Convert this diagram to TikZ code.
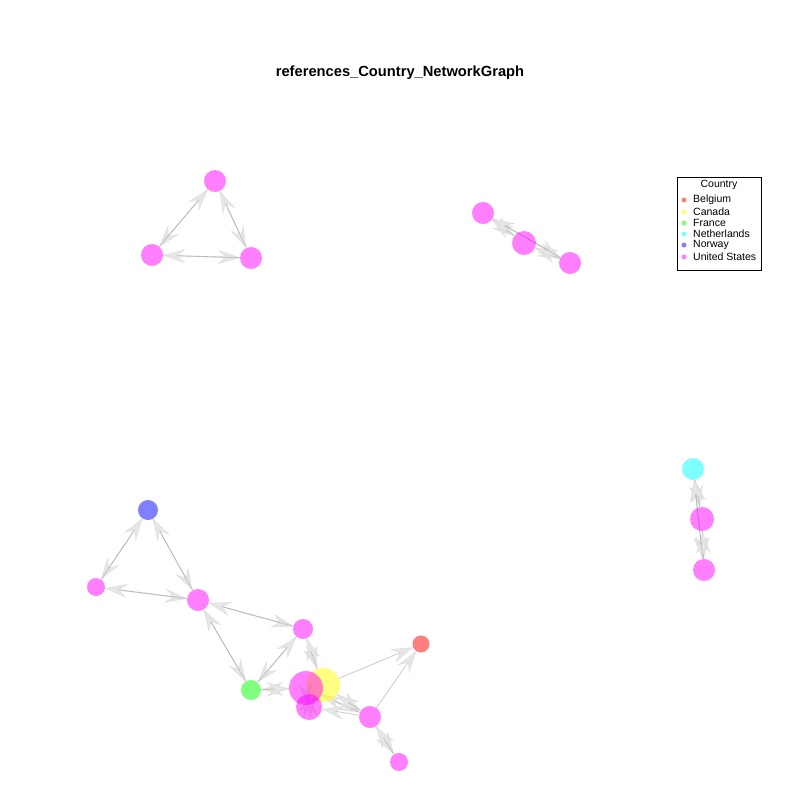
\documentclass[tikz,border=0pt]{standalone}
\usepackage{fontspec}
\setmainfont{Liberation Sans}
\usetikzlibrary{arrows.meta}
\definecolor{cUS}{RGB}{255,0,255}
\definecolor{cBE}{RGB}{255,0,0}
\definecolor{cCA}{RGB}{255,255,0}
\definecolor{cFR}{RGB}{0,255,0}
\definecolor{cNL}{RGB}{0,255,255}
\definecolor{cNO}{RGB}{0,0,255}
\definecolor{edgegrey}{RGB}{170,170,170}
\definecolor{tipgrey}{RGB}{230,230,230}
\definecolor{tipline}{RGB}{205,205,205}
\begin{document}
\begin{tikzpicture}[x=1pt,y=-1pt,
  vtx/.style={circle,inner sep=0pt,draw=none,fill opacity=0.5,minimum size=#1},
  us/.style={vtx=#1,fill=cUS},
  be/.style={vtx=#1,fill=cBE},
  ca/.style={vtx=#1,fill=cCA},
  fr/.style={vtx=#1,fill=cFR},
  nl/.style={vtx=#1,fill=cNL},
  no/.style={vtx=#1,fill=cNO},
  link/.style={draw=edgegrey,draw opacity=0.55,line width=0.9pt,
    -{Stealth[length=22pt,width=14pt,inset=8pt,color=tipline,fill=tipgrey,line width=0.4pt]}},
  legdot/.style={circle,inner sep=0pt,minimum size=5pt,fill opacity=0.5},
  legtxt/.style={anchor=west,inner sep=0pt,font=\fontsize{10.5}{11}\selectfont},
]
\useasboundingbox (0,0) rectangle (800,800);
\fill[white] (0,0) rectangle (800,800);

% title
\node[font=\bfseries\fontsize{14.7}{16}\selectfont] (title) at (400,73) {references\_Country\_NetworkGraph};

% vertex centres
\coordinate (a1) at (215,181);
\coordinate (a2) at (152,255);
\coordinate (a3) at (251,258);
\coordinate (b1) at (483,213);
\coordinate (b2) at (524,243);
\coordinate (b3) at (570,263);
\coordinate (c1) at (693,469);
\coordinate (c2) at (702,519);
\coordinate (c3) at (704,570);
\coordinate (d1) at (148,510);
\coordinate (d2) at (96,587);
\coordinate (d3) at (198,600);
\coordinate (d4) at (303,629);
\coordinate (be) at (421,644);
\coordinate (ca) at (323,685);
\coordinate (fr) at (251,690);
\coordinate (u1) at (306,688);
\coordinate (u2) at (309,707);
\coordinate (u3) at (370,717);
\coordinate (u4) at (399,762);

% invisible node outlines so connectors stop at the vertex rims
\begin{scope}[every node/.style={circle,inner sep=0pt,draw=none}]
\node[minimum size=22pt] (A1) at (a1) {};
\node[minimum size=22pt] (A2) at (a2) {};
\node[minimum size=22pt] (A3) at (a3) {};
\node[minimum size=22pt] (B1) at (b1) {};
\node[minimum size=24pt] (B2) at (b2) {};
\node[minimum size=22pt] (B3) at (b3) {};
\node[minimum size=22pt] (C1) at (c1) {};
\node[minimum size=24pt] (C2) at (c2) {};
\node[minimum size=22pt] (C3) at (c3) {};
\node[minimum size=20pt] (D1) at (d1) {};
\node[minimum size=18pt] (D2) at (d2) {};
\node[minimum size=22pt] (D3) at (d3) {};
\node[minimum size=20pt] (D4) at (d4) {};
\node[minimum size=17pt] (BE) at (be) {};
\node[minimum size=34pt] (CA) at (ca) {};
\node[minimum size=20pt] (FR) at (fr) {};
\node[minimum size=34pt] (U1) at (u1) {};
\node[minimum size=26pt] (U2) at (u2) {};
\node[minimum size=22pt] (U3) at (u3) {};
\node[minimum size=18pt] (U4) at (u4) {};
\end{scope}

% connectors
\foreach \s/\t in {A1/A2,A2/A1,A1/A3,A3/A1,A2/A3,A3/A2,
                   B1/B2,B2/B1,B2/B3,B3/B2,B1/B3,B3/B1,
                   C1/C2,C2/C1,C2/C3,C3/C2,C1/C3,C3/C1,
                   D1/D2,D2/D1,D1/D3,D3/D1,D2/D3,D3/D2,
                   D3/D4,D4/D3,D3/FR,FR/D3,D4/FR,FR/D4,
                   D4/CA,CA/D4,CA/BE,U3/BE,
                   U1/FR,FR/U1,U1/U3,U3/U1,CA/U3,U3/CA,
                   U3/U4,U4/U3,U1/U2,U2/U1,CA/U2,U3/U2}
  \draw[link] (\s) -- (\t);

% vertex discs
\node[us=22pt] at (a1) {};
\node[us=22pt] at (a2) {};
\node[us=22pt] at (a3) {};
\node[us=22pt] at (b1) {};
\node[us=24pt] at (b2) {};
\node[us=22pt] at (b3) {};
\node[nl=22pt] at (c1) {};
\node[us=24pt] at (c2) {};
\node[us=22pt] at (c3) {};
\node[no=20pt] at (d1) {};
\node[us=18pt] at (d2) {};
\node[us=22pt] at (d3) {};
\node[us=20pt] at (d4) {};
\node[be=17pt] at (be) {};
\node[ca=34pt] at (ca) {};
\node[fr=20pt] at (fr) {};
\node[us=34pt] at (u1) {};
\node[us=26pt] at (u2) {};
\node[us=22pt] at (u3) {};
\node[us=18pt] at (u4) {};

% legend
\draw[black,line width=0.6pt] (677,177) rectangle (761,270);
\node[font=\fontsize{10.5}{11}\selectfont] (lgtitle) at (719,185) {Country};
\foreach \c/\n/\y in {cBE/Belgium/200, cCA/Canada/212, cFR/France/223,
                      cNL/Netherlands/234, cNO/Norway/245, cUS/United States/257}{
  \node[legdot,fill=\c] (dot\y) at (684,\y) {};
  \node[legtxt] (lab\y) at (693,\y) {\n};
}
\end{tikzpicture}
\end{document}
